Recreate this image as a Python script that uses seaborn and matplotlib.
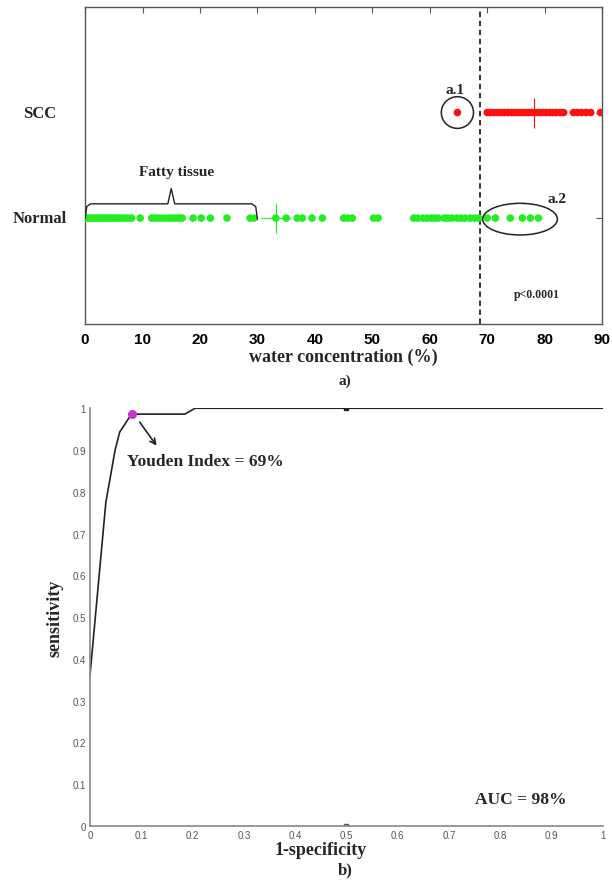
import numpy as np
import pandas as pd
import seaborn as sns
import matplotlib.pyplot as plt
import matplotlib.patches as patches

# ---------------- data ----------------
normal_water = [0.0, 0.3, 0.6, 1.0, 1.4, 1.8, 2.2, 2.6, 3.0, 3.4, 3.8, 4.2, 4.6, 5.0,
                5.5, 6.0, 6.5, 7.0, 7.5, 8.1, 9.6, 11.6, 12.2, 12.8, 13.4, 14.0,
                14.6, 15.2, 15.8, 16.4, 16.9, 18.8, 20.2, 21.8, 24.7, 28.7, 29.4,
                33.2, 35.0, 36.9, 37.8, 39.5, 41.3, 45.0, 45.8, 46.5, 50.2, 51.0,
                57.2, 57.9, 58.8, 59.5, 60.2, 60.8, 61.4, 62.5, 63.1, 63.8, 64.7,
                65.4, 66.1, 67.0, 67.8, 68.5, 70.0, 71.4, 74.0, 76.1, 77.5, 78.9]
scc_water = [64.8, 70.0, 70.6, 71.2, 71.8, 72.4, 73.0, 73.6, 74.2, 74.8, 75.4, 76.0,
             76.6, 77.2, 77.8, 78.4, 79.0, 79.6, 80.2, 80.8, 81.4, 82.0, 82.7, 83.3,
             85.0, 85.7, 86.4, 87.2, 88.0, 89.7]
group_names = ['Normal', 'SCC']
group_means = [33.3, 78.2]
cutoff = 68.8

roc_fpr = [0.0, 0.031, 0.049, 0.058, 0.081, 0.185, 0.205, 0.5, 1.0]
roc_tpr = [0.36, 0.775, 0.90, 0.943, 0.986, 0.986, 1.0, 1.0, 1.0]
youden_point = (0.081, 0.986)

water_ticks = list(range(0, 91, 10))
roc_ticks = [round(0.1 * i, 1) for i in range(11)]
roc_ticklabels = ['0', '0.1', '0.2', '0.3', '0.4', '0.5', '0.6', '0.7', '0.8', '0.9', '1']

serif = 'Liberation Serif'
sans = 'Liberation Sans'

sns.set_style('white')
plt.rcParams['font.family'] = ['Liberation Sans', 'DejaVu Sans']

fig = plt.figure(figsize=(6.12, 8.87), dpi=100)

# ---------------- a) scatter of water concentration ----------------
ax1 = fig.add_axes([0.139, 0.634, 0.845, 0.357])
df = pd.DataFrame({
    'water': normal_water + scc_water,
    'group': ['Normal'] * len(normal_water) + ['SCC'] * len(scc_water),
})
df['ypos'] = df['group'].map({'Normal': 1, 'SCC': 2})
sns.scatterplot(data=df, x='water', y='ypos', hue='group',
                palette={'Normal': '#22ee22', 'SCC': '#ff1010'},
                s=30, linewidth=0, legend=False, ax=ax1, zorder=3)
ax1.plot(group_means[0], 1, marker='+', color='#22ee22', markersize=22, mew=0.8, zorder=4)
ax1.plot(group_means[1], 2, marker='+', color='#ff1010', markersize=22, mew=0.8, zorder=4)
ax1.axvline(cutoff, color='#222222', linestyle=(0, (3, 2)), linewidth=1.3, zorder=2)

ax1.set_xlim(0, 90)
ax1.set_ylim(0, 3)
ax1.set_xticks(water_ticks)
ax1.set_xticklabels([str(t) for t in water_ticks], fontfamily=sans,
                    fontweight='bold', fontsize=11)
ax1.set_yticks([1, 2])
ax1.set_yticklabels([])
for yv, name in zip([1, 2], group_names):
    ax1.text(-0.087, yv, name, transform=ax1.get_yaxis_transform(), ha='center',
             va='center', fontfamily=serif, fontweight='bold', fontsize=12)
ax1.tick_params(direction='in', top=True, right=True, length=4, width=0.8,
                colors='#555555', labelcolor='black', pad=6)
for sp in ax1.spines.values():
    sp.set_color('#555555')
    sp.set_linewidth(1.0)
ax1.set_xlabel('water concentration (%)', fontfamily=serif, fontweight='bold',
               fontsize=13, labelpad=1)
ax1.set_ylabel('')

# brace over fatty tissue
bx = [0.0, 0.3, 1.0, 14.4, 15.0, 15.6, 29.0, 29.7, 30.0]
by = [0.99, 1.11, 1.135, 1.135, 1.28, 1.135, 1.135, 1.11, 0.99]
ax1.plot(bx, by, color='#222222', linewidth=1.0, zorder=4)
ax1.text(16, 1.44, 'Fatty tissue', ha='center', va='center', fontfamily=serif,
         fontweight='bold', fontsize=11)

ax1.add_patch(patches.Ellipse((64.8, 2.0), 5.6, 0.30, fill=False,
                              edgecolor='#222222', linewidth=1.1, zorder=5))
ax1.text(64.4, 2.22, 'a.1', ha='center', va='center', fontfamily=serif,
         fontweight='bold', fontsize=11)
ax1.add_patch(patches.Ellipse((75.7, 0.99), 13.0, 0.30, fill=False,
                              edgecolor='#222222', linewidth=1.1, zorder=5))
ax1.text(82.2, 1.19, 'a.2', ha='center', va='center', fontfamily=serif,
         fontweight='bold', fontsize=11)
ax1.text(78.7, 0.28, 'p<0.0001', ha='center', va='center', fontfamily=serif,
         fontweight='bold', fontsize=8.5)

fig.text(0.564, 0.570, 'a)', ha='center', va='center', fontfamily=serif,
         fontweight='bold', fontsize=11)

# ---------------- b) ROC curve ----------------
ax2 = fig.add_axes([0.147, 0.0676, 0.838, 0.471])
roc = pd.DataFrame({'fpr': roc_fpr, 'tpr': roc_tpr})
sns.lineplot(data=roc, x='fpr', y='tpr', color='#222222', linewidth=1.2,
             sort=False, estimator=None, ax=ax2)
ax2.plot(0.5, 1.0, marker='s', color='#222222', markersize=3.5)
ax2.plot(0.5, 0.0, marker='s', color='#555555', markersize=3.5, mfc='none', mew=1.0)
ax2.plot(*youden_point, marker='o', color='#cc33cc', markersize=5.5, zorder=5)

ax2.set_xlim(0, 1)
ax2.set_ylim(0, 1)
ax2.set_xticks(roc_ticks)
ax2.set_xticklabels(roc_ticklabels, fontsize=7)
ax2.set_yticks(roc_ticks)
ax2.set_yticklabels(roc_ticklabels, fontsize=7)
ax2.tick_params(direction='in', length=3.5, width=0.8, colors='#888888',
                labelcolor='#555555', pad=3)
for name, sp in ax2.spines.items():
    if name in ('top', 'right'):
        sp.set_visible(False)
    else:
        sp.set_color('#888888')
        sp.set_linewidth(1.2)
ax2.set_xlabel('1-specificity', fontfamily=serif, fontweight='bold', fontsize=13,
               labelpad=0)
ax2.set_ylabel('sensitivity', fontfamily=serif, fontweight='bold', fontsize=13)
ax2.xaxis.set_label_coords(0.45, -0.035)
ax2.yaxis.set_label_coords(-0.052, 0.5)

ax2.annotate('', xy=(0.133, 0.905), xytext=(0.094, 0.972),
             arrowprops=dict(arrowstyle='->', color='#222222', lw=1.2))
ax2.text(0.073, 0.873, 'Youden Index = 69%', ha='left', va='center',
         fontfamily=serif, fontweight='bold', fontsize=12.5)
ax2.text(0.75, 0.065, 'AUC = 98%', ha='left', va='center', fontfamily=serif,
         fontweight='bold', fontsize=12.5)

fig.text(0.564, 0.019, 'b)', ha='center', va='center', fontfamily=serif,
         fontweight='bold', fontsize=12)

fig.savefig('out.png', dpi=100)
